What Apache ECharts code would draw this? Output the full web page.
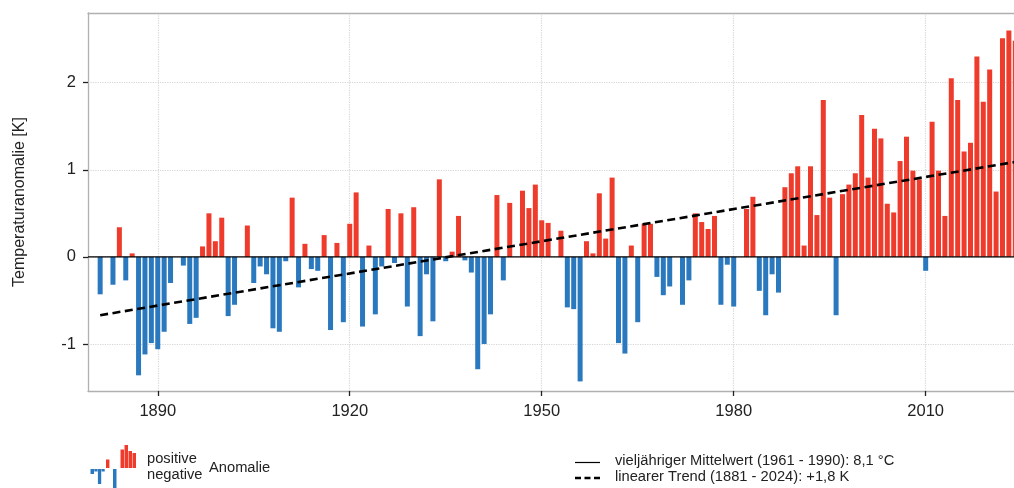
<!DOCTYPE html>
<html>
<head>
<meta charset="utf-8">
<script src="https://cdn.jsdelivr.net/npm/echarts@6/dist/echarts.min.js"></script>
<style>
  html, body { margin: 0; padding: 0; background: #ffffff; }
  #chart { width: 1014px; height: 488px; }
</style>
</head>
<body>
<div id="chart"></div>
<script>
// ---- data ----
const startYear = 1881;
const anomalies = [
  -0.43, 0.00, -0.32, 0.34, -0.27, 0.04, -1.36, -1.12, -0.99, -1.06, // 1881-1890
  -0.86, -0.30, 0.00, -0.10, -0.77, -0.70, 0.12, 0.50, 0.18, 0.45,   // 1891-1900
  -0.68, -0.55, 0.00, 0.36, -0.30, -0.11, -0.20, -0.82, -0.86, -0.05, // 1901-1910
  0.68, -0.35, 0.15, -0.14, -0.16, 0.25, -0.84, 0.16, -0.75, 0.38,   // 1911-1920
  0.74, -0.80, 0.13, -0.66, -0.11, 0.55, -0.07, 0.50, -0.57, 0.57,   // 1921-1930
  -0.91, -0.20, -0.74, 0.89, -0.05, 0.06, 0.47, -0.04, -0.18, -1.29, // 1931-1940
  -1.00, -0.66, 0.71, -0.27, 0.62, 0.00, 0.76, 0.56, 0.83, 0.42,     // 1941-1950
  0.39, 0.00, 0.30, -0.58, -0.60, -1.43, 0.18, 0.04, 0.73, 0.21,     // 1951-1960
  0.91, -0.99, -1.11, 0.13, -0.75, 0.38, 0.38, -0.23, -0.44, -0.34,  // 1961-1970
  0.00, -0.55, -0.27, 0.50, 0.40, 0.32, 0.47, -0.55, -0.09, -0.57,   // 1971-1980
  0.00, 0.55, 0.69, -0.39, -0.67, -0.20, -0.41, 0.80, 0.96, 1.04,    // 1981-1990
  0.13, 1.04, 0.48, 1.80, 0.68, -0.67, 0.72, 0.83, 0.96, 1.63,       // 1991-2000
  0.91, 1.47, 1.36, 0.61, 0.51, 1.10, 1.38, 0.99, 0.89, -0.16,       // 2001-2010
  1.55, 0.99, 0.47, 2.05, 1.80, 1.21, 1.31, 2.30, 1.78, 2.15,        // 2011-2020
  0.75, 2.51, 2.60, 2.48                                             // 2021-2024
];
const trendYears = [1881, 2024];
const trendValues = [-0.67, 1.09];
const meanValue = 0;
const xTickValues = [1890, 1920, 1950, 1980, 2010];
const yTickValues = [-1, 0, 1, 2];
const yAxisTitle = 'Temperaturanomalie [K]';
const meanLabel = 'vieljähriger Mittelwert (1961 - 1990): 8,1 °C';
const trendLabel = 'linearer Trend (1881 - 2024): +1,8 K';
const posLabel = 'positive';
const negLabel = 'negative';
const anomLabel = 'Anomalie';

// ---- styling / layout ----
const RED = '#ee3b2b';
const BLUE = '#2a78be';
const TXT = '#222222';
const FRAME = '#b0b0b0';
const FONT = '"Liberation Sans", Arial, Helvetica, sans-serif';
const X_MIN = 1879.1, X_MAX = 2023.8;
const Y_MIN = -1.54, Y_MAX = 2.80;

const barData = anomalies.map((v, i) => ({
  value: [startYear + i, v],
  itemStyle: { color: v >= 0 ? RED : BLUE }
}));
const trendData = trendYears.map((y, i) => [y, trendValues[i]]);

// legend icon (decorative mini bar chart)
const iconBars = [
  [90.5, 3.5, 469, 474, BLUE],
  [94.3, 3.3, 469, 471.5, BLUE],
  [97.9, 3.3, 469, 484, BLUE],
  [101.5, 3.2, 469, 471.5, BLUE],
  [106, 3.4, 459.5, 468, RED],
  [113, 3.5, 469, 488, BLUE],
  [120.5, 3.5, 449.5, 468, RED],
  [124.5, 3.5, 445, 468, RED],
  [128.5, 3.5, 451, 468, RED],
  [132.5, 3.5, 453, 468, RED]
];
const graphics = iconBars.map(b => ({
  type: 'rect', shape: { x: b[0], y: b[2], width: b[1], height: b[3] - b[2] },
  style: { fill: b[4] }, silent: true
}));
const legFont = '14.7px ' + FONT;
graphics.push(
  { type: 'text', left: 147, top: 451, style: { text: posLabel, font: legFont, fill: TXT } },
  { type: 'text', left: 147, top: 467, style: { text: negLabel, font: legFont, fill: TXT } },
  { type: 'text', left: 209, top: 460, style: { text: anomLabel, font: legFont, fill: TXT } },
  { type: 'line', shape: { x1: 575, y1: 462.5, x2: 600, y2: 462.5 }, style: { stroke: '#000', lineWidth: 1.2 } },
  { type: 'line', shape: { x1: 575, y1: 478, x2: 603, y2: 478 }, style: { stroke: '#000', lineWidth: 2.6, lineDash: [6, 3.5] } },
  { type: 'text', left: 615, top: 453.5, style: { text: meanLabel, font: legFont, fill: TXT } },
  { type: 'text', left: 615, top: 469, style: { text: trendLabel, font: legFont, fill: TXT } }
);

const gridLine = { show: true, lineStyle: { color: '#d6d6d6', type: 'dotted', width: 1.2 } };
const chart = echarts.init(document.getElementById('chart'), null, { renderer: 'canvas' });
chart.setOption({
  animation: false,
  backgroundColor: '#ffffff',
  textStyle: { fontFamily: FONT },
  grid: { left: 88, top: 13, right: 0, bottom: 97 },
  xAxis: [
    {
      type: 'value', min: X_MIN, max: X_MAX, position: 'bottom',
      axisLine: { show: true, onZero: false, lineStyle: { color: FRAME, width: 1.3 } },
      axisTick: { show: true, customValues: xTickValues, length: 5, lineStyle: { color: '#222', width: 1.3 } },
      axisLabel: { customValues: xTickValues, fontSize: 16.5, color: TXT, margin: 12, fontFamily: FONT,
                   formatter: v => String(v) },
      splitLine: gridLine
    },
    {
      type: 'value', min: X_MIN, max: X_MAX, position: 'top',
      axisLine: { show: true, onZero: false, lineStyle: { color: FRAME, width: 1.3 } },
      axisTick: { show: false }, axisLabel: { show: false }, splitLine: { show: false }
    }
  ],
  yAxis: {
    type: 'value', min: Y_MIN, max: Y_MAX,
    name: yAxisTitle, nameLocation: 'middle', nameGap: 60,
    nameTextStyle: { fontSize: 16, color: TXT, fontFamily: FONT },
    axisLine: { show: true, onZero: false, lineStyle: { color: FRAME, width: 1.3 } },
    axisTick: { show: true, customValues: yTickValues, length: 5, lineStyle: { color: '#222', width: 1.3 } },
    axisLabel: { customValues: yTickValues, fontSize: 16.5, color: TXT, margin: 12, fontFamily: FONT,
                 formatter: v => String(v) },
    splitLine: gridLine
  },
  series: [
    {
      name: 'Anomalie', type: 'bar', data: barData, barWidth: 5, z: 2
    },
    {
      name: meanLabel, type: 'line', data: [[X_MIN, meanValue], [X_MAX, meanValue]],
      symbol: 'none', lineStyle: { color: '#000', width: 1.2 }, z: 3, silent: true
    },
    {
      name: trendLabel, type: 'line', data: trendData,
      symbol: 'none', lineStyle: { color: '#000', width: 2.6, type: [8, 4.5] }, z: 4, silent: true
    }
  ],
  graphic: graphics
});
</script>
</body>
</html>
